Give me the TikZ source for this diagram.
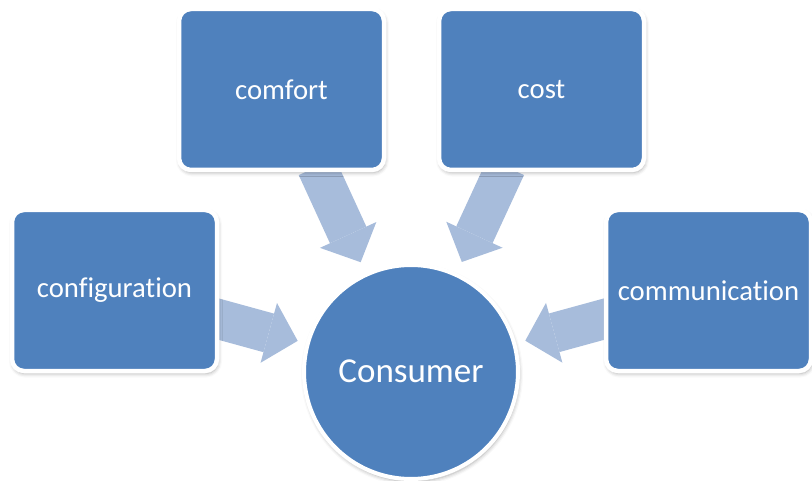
\documentclass[tikz,border=0pt]{standalone}
\usepackage{fontspec}
\setmainfont{Carlito}[Ligatures={NoCommon,NoDiscretionary,NoContextual}]
\usetikzlibrary{arrows.meta,calc,backgrounds,shadows.blur}
\definecolor{boxblue}{RGB}{79,129,189}
\definecolor{arrowblue}{RGB}{167,188,219}
\begin{document}
\begin{tikzpicture}[x=1pt,y=-1pt,
  box/.style={rectangle, rounded corners=12pt, fill=boxblue, draw=white, line width=4.5pt,
    minimum width=205pt, minimum height=161pt, inner sep=0pt, text=white,
    font=\fontsize{28.7}{34}\selectfont,
    blur shadow={shadow xshift=1pt, shadow yshift=-2.5pt, shadow blur radius=4pt, shadow opacity=35}},
  hub/.style={circle, fill=boxblue, draw=white, line width=4pt, minimum size=214pt,
    inner sep=0pt, text=white, font=\fontsize{35}{42}\selectfont,
    blur shadow={shadow xshift=1pt, shadow yshift=-2.5pt, shadow blur radius=4pt, shadow opacity=35}},
  flow/.style={draw=arrowblue, line width=40pt,
    -{Triangle[length=30pt,width=62pt,line width=0pt]}}]
\useasboundingbox (0,0) rectangle (812,481);
\node[hub] (cons) at (411,372) {\raisebox{2pt}{Consumer}};
\node[box] (comfort) at (281.5,89.5) {comfort};
\node[box] (cost) at (541.5,89.5) {cost};
\node[box] (config) at (114.5,290.5) {configuration};
\node[box] (comm) at (708.5,290.5) {communication};
\begin{pgfonlayer}{background}
  \draw[flow] ($(comfort.center)!85pt!(cons.center)$) -- ($(comfort.center)!190pt!(cons.center)$);
  \draw[flow] ($(cost.center)!85pt!(cons.center)$) -- ($(cost.center)!190pt!(cons.center)$);
  \draw[flow] ($(config.center)!95pt!(cons.center)$) -- ($(config.center)!190pt!(cons.center)$);
  \draw[flow] ($(comm.center)!95pt!(cons.center)$) -- ($(comm.center)!190pt!(cons.center)$);
\end{pgfonlayer}
\end{tikzpicture}
\end{document}
